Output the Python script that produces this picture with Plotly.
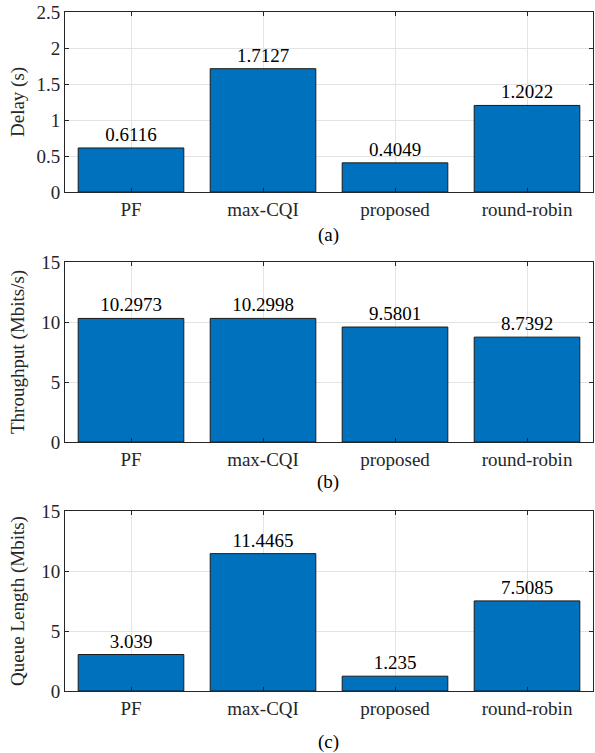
import plotly.graph_objects as go

categories = ["PF", "max-CQI", "proposed", "round-robin"]
delay = [0.6116, 1.7127, 0.4049, 1.2022]
throughput = [10.2973, 10.2998, 9.5801, 8.7392]
queue = [3.039, 11.4465, 1.235, 7.5085]
delay_labels = ["0.6116", "1.7127", "0.4049", "1.2022"]
throughput_labels = ["10.2973", "10.2998", "9.5801", "8.7392"]
queue_labels = ["3.039", "11.4465", "1.235", "7.5085"]

W, H = 595, 753
FONT = "Liberation Serif"
FS = 19
BLUE = "#0072BD"

panels = [
    (delay, delay_labels, "Delay (s)", "(a)", [0, 2.5], 0.5, 12, 192, 43),
    (throughput, throughput_labels, "Throughput (Mbits/s)", "(b)", [0, 15], 5, 262, 442, 40),
    (queue, queue_labels, "Queue Length (Mbits)", "(c)", [0, 15], 5, 511, 691, 51),
]

fig = go.Figure()
left_px, right_px = 65, 593
xd = [left_px / W, right_px / W]
annotations = []
for i, (vals, labels, ytitle, sub, yr, dt, top, bot, suboff) in enumerate(panels):
    n = "" if i == 0 else str(i + 1)
    fig.add_trace(go.Bar(
        x=list(range(len(categories))), y=vals, text=labels,
        textposition="outside", cliponaxis=False,
        textfont=dict(family=FONT, size=FS, color="#000"),
        marker=dict(color=BLUE, line=dict(color="#1a1a1a", width=1)),
        width=0.8, xaxis="x" + n, yaxis="y" + n, showlegend=False,
        hoverinfo="skip",
    ))
    axcommon = dict(
        showline=True, linecolor="#262626", linewidth=1, mirror="allticks",
        ticks="inside", ticklen=4, tickcolor="#262626",
        showgrid=True, gridcolor="#e3e3e3", gridwidth=1, zeroline=False,
        tickfont=dict(family=FONT, size=FS, color="#262626"),
        automargin=False,
    )
    fig.update_layout(**{
        "xaxis" + n: dict(axcommon, domain=xd, range=[-0.5, 3.5],
                          tickmode="array", tickvals=list(range(4)), ticktext=categories,
                          anchor="y" + n),
        "yaxis" + n: dict(axcommon, domain=[1 - bot / H, 1 - top / H], range=yr,
                          dtick=dt, tick0=0, anchor="x" + n),
    })
    annotations.append(dict(
        text=ytitle, x=18 / W, y=1 - (top + bot) / 2 / H, xref="paper", yref="paper",
        textangle=-90, showarrow=False, xanchor="center", yanchor="middle",
        font=dict(family=FONT, size=FS, color="#262626"),
    ))
    annotations.append(dict(
        text=sub, x=328 / W, y=1 - (bot + suboff) / H,
        xref="paper", yref="paper", showarrow=False, xanchor="center", yanchor="middle",
        font=dict(family=FONT, size=FS, color="#000"),
    ))

fig.update_layout(
    width=W, height=H, margin=dict(l=0, r=0, t=0, b=0, autoexpand=False),
    paper_bgcolor="white", plot_bgcolor="white",
    annotations=annotations, bargap=0.2,
)
fig.write_html(
    "out.html",
    config={"displayModeBar": False, "staticPlot": True},
    post_script="document.body.style.margin='0';document.body.style.overflow='hidden';",
)
